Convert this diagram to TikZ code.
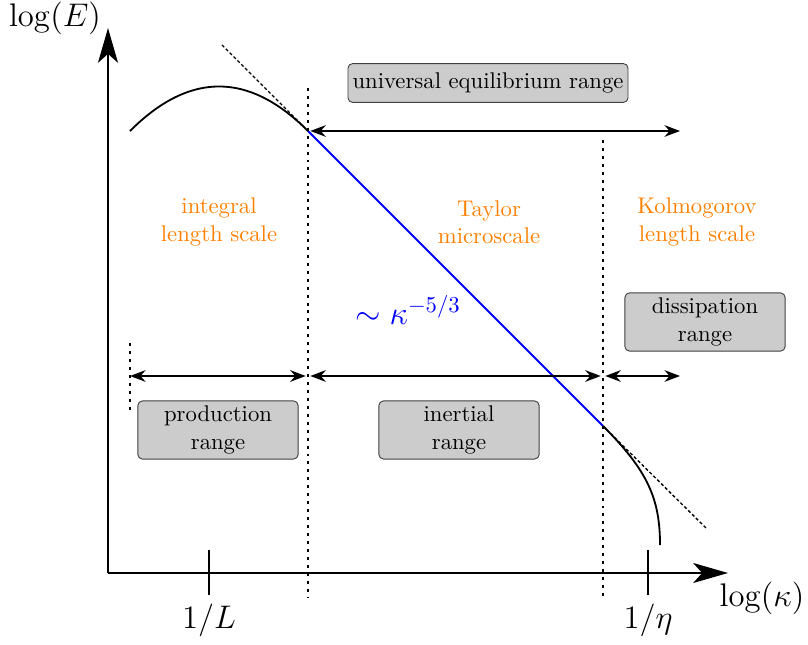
\documentclass[tikz,border=0pt]{standalone}
\usepackage{amsmath,amssymb}
\usepackage{tikz}
\usetikzlibrary{arrows.meta,positioning,calc}

\begin{document}
\begin{tikzpicture}[x=0.774cm, y=0.774cm,
  rangebox/.style={draw=black!75, fill=black!20, rounded corners=2pt, align=center,
    minimum width=2.48cm, minimum height=0.9cm, inner sep=2pt},
  scalelabel/.style={text=orange, align=center},
  biglabel/.style={font=\Large},
  axisline/.style={thick, -{Stealth[length=5.4mm, width=3.1mm, inset=1.4mm]}},
  rangearrow/.style={thick, {Stealth[length=2.4mm, width=1.8mm]}-{Stealth[length=2.4mm, width=1.8mm]}},
  divider/.style={line width=1.2pt, dash pattern=on 1.3pt off 2.2pt},
  tangent/.style={line width=0.6pt, dash pattern=on 1.4pt off 1pt}]

\useasboundingbox (0,0) rectangle (16.16,12.88);

% axes
\coordinate (O) at (2.16,1.42);
\coordinate (ytip) at (2.16,12.32);
\coordinate (xtip) at (14.56,1.42);
\draw[axisline] (O) -- (ytip);
\draw[axisline] (O) -- (xtip);
\node[biglabel] (ylab) at (1.1,12.52) {$\log(E)$};
\node[biglabel] (xlab) at (15.24,0.92) {$\log(\kappa)$};

% ticks
\draw[thick] (4.18,1.88) -- (4.18,0.98);
\node[biglabel] (invL) at (4.18,0.48) {$1/L$};
\draw[thick] (12.96,1.88) -- (12.96,0.98);
\node[biglabel] (inveta) at (12.96,0.48) {$1/\eta$};

% spectrum
\coordinate (A) at (6.16,10.26);
\coordinate (B) at (12.06,4.36);
\draw[thick] plot[domain=2.6:6.16, samples=40, smooth] (\x,{11.15-0.281*(\x-4.38)^2});
\draw[thick, blue] (A) -- (B);
\draw[thick] (B) .. controls (12.96,3.46) and (13.2,2.9) .. (13.2,1.98);
\draw[tangent] (4.44,11.98) -- (A);
\draw[tangent] (B) -- (14.12,2.32);
\node[biglabel, text=blue] (slope) at (8.16,6.68) {$\sim\kappa^{-5/3}$};

% dividers
\draw[divider] (6.16,11.12) -- (6.16,0.94);
\draw[divider] (12.06,10.08) -- (12.06,0.94);
\draw[divider] (2.6,6.02) -- (2.6,4.64);

% ranges
\coordinate (P1) at (2.6,5.36);
\coordinate (P2) at (6.16,5.36);
\coordinate (P3) at (12.06,5.36);
\coordinate (P4) at (13.6,5.36);
\coordinate (Q) at (13.6,10.26);
\draw[rangearrow, shorten <=1pt] (A) -- (Q);
\draw[rangearrow, shorten >=1pt] (P1) -- (P2);
\draw[rangearrow, shorten <=1pt, shorten >=1pt] (P2) -- (P3);
\draw[rangearrow, shorten <=1pt] (P3) -- (P4);

\node[rangebox, minimum height=0.6cm] (univ) at (9.76,11.22) {universal equilibrium range};
\node[rangebox] (diss) at (14.1,6.44) {dissipation\\range};
\node[rangebox] (prod) at (4.36,4.28) {production\\range};
\node[rangebox] (inert) at (9.18,4.28) {inertial\\range};

% length scales
\node[scalelabel] (integral) at (4.38,8.44) {integral\\length scale};
\node[scalelabel] (taylor) at (9.78,8.44) {Taylor\\microscale};
\node[scalelabel] (kolmo) at (13.94,8.44) {Kolmogorov\\length scale};
\end{tikzpicture}
\end{document}
